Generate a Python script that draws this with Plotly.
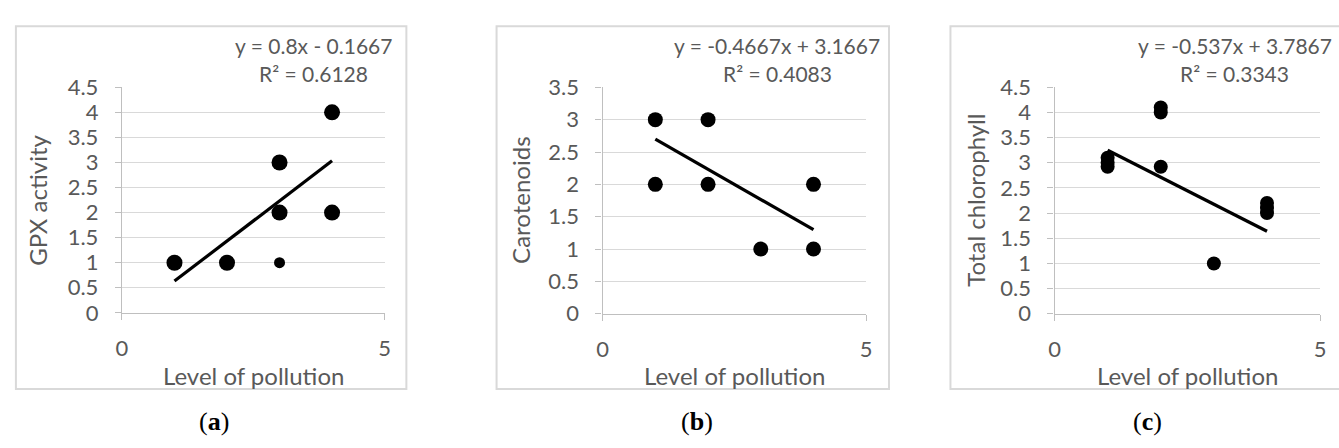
import plotly.graph_objects as go

# ---------------- data ----------------
pollution_a = [1, 2, 3, 3, 3, 4, 4]
gpx_activity = [1, 1, 1, 2, 3, 2, 4]

pollution_b = [1, 1, 2, 2, 3, 4, 4]
carotenoids = [3, 2, 3, 2, 1, 2, 1]

pollution_c = [1, 1, 1, 2, 2, 2, 3, 4, 4, 4]
total_chlorophyll = [2.92, 3.0, 3.1, 4.0, 4.1, 2.92, 1.0, 2.0, 2.1, 2.2]

# trendline coefficients (slope, intercept) and R^2 as shown on chart
fit_a = (0.8, -0.1667, 0.6128)
fit_b = (-0.4667, 3.1667, 0.4083)
fit_c = (-0.537, 3.7867, 0.3343)

eq_a = "y = 0.8x - 0.1667"
eq_b = "y = -0.4667x + 3.1667"
eq_c = "y = -0.537x + 3.7867"

y_titles = ["GPX activity", "Carotenoids", "Total chlorophyll"]
x_title = "Level of pollution"
captions = ["a", "b", "c"]
y_max = [4.5, 3.5, 4.5]

# ---------------- layout helpers ----------------
W, H = 1339, 448
def px(x):
    return x / W
def py(y):
    return 1 - y / H

GRAY = "#595959"
GRID = "#d9d9d9"
FONT = "Lato, 'Open Sans', sans-serif"

panels = [
    dict(xs=pollution_a, ys=gpx_activity, fit=fit_a, eq=eq_a,
         dom_x=(117, 382), dom_y=(78, 318), box=(10, 13, 404, 399),
         ytitle_x=31, eq_cx=310, cap_x=210, msize=[16, 16, 11, 16, 16, 16, 16]),
    dict(xs=pollution_b, ys=carotenoids, fit=fit_b, eq=eq_b,
         dom_x=(602, 868), dom_y=(78, 319), box=(495, 13, 891, 399),
         ytitle_x=519, eq_cx=778, cap_x=697, msize=15),
    dict(xs=pollution_c, ys=total_chlorophyll, fit=fit_c, eq=eq_c,
         dom_x=(1058, 1326), dom_y=(78, 319), box=(953, 13, 1350, 399),
         ytitle_x=978, eq_cx=1240, cap_x=1152, msize=14),
]

fig = go.Figure()
annotations = []
shapes = []

for i, p in enumerate(panels):
    n = "" if i == 0 else str(i + 1)
    xa, ya = "x" + n, "y" + n
    xs, ys = p["xs"], p["ys"]
    slope, intercept, r2 = p["fit"]

    fig.add_trace(go.Scatter(
        x=xs, y=ys, mode="markers", xaxis=xa, yaxis=ya,
        marker=dict(color="black", size=p["msize"], opacity=1, line=dict(width=0)),
        showlegend=False, hoverinfo="x+y"))

    x0, x1 = min(xs), max(xs)
    fig.add_trace(go.Scatter(
        x=[x0, x1], y=[slope * x0 + intercept, slope * x1 + intercept],
        mode="lines", xaxis=xa, yaxis=ya,
        line=dict(color="black", width=3.2), showlegend=False, hoverinfo="skip"))

    dx0, dx1 = p["dom_x"]
    dy0, dy1 = p["dom_y"]
    axis_common = dict(
        showgrid=True, gridcolor=GRID, gridwidth=1.3,
        showline=True, linecolor="#bfbfbf", linewidth=1.3,
        ticks="outside", ticklen=6, tickcolor="#bfbfbf",
        tickfont=dict(family=FONT, size=22, color=GRAY),
        zeroline=False, fixedrange=True)
    fig.update_layout(**{
        ("xaxis" + n): dict(
            domain=[px(dx0), px(dx1)], range=[0, 5], tickvals=[0, 5],
            anchor=ya, ticklabelstandoff=10, **axis_common),
        ("yaxis" + n): dict(
            domain=[py(dy1), py(dy0)], range=[0, y_max[i]], dtick=0.5,
            anchor=xa, ticklabelstandoff=12, **axis_common),
    })

    # outer chart border
    bx0, by0, bx1, by1 = p["box"]
    shapes.append(dict(type="rect", xref="paper", yref="paper",
                       x0=px(bx0), x1=px(bx1), y0=py(by1), y1=py(by0),
                       line=dict(color=GRID, width=2), layer="below"))

    # axis titles
    annotations.append(dict(
        text=x_title, xref="paper", yref="paper",
        x=px((dx0 + dx1) / 2), y=py(385), showarrow=False,
        xanchor="center", yanchor="middle",
        font=dict(family=FONT, size=24, color=GRAY)))
    annotations.append(dict(
        text=y_titles[i], xref="paper", yref="paper",
        x=px(p["ytitle_x"]), y=py((dy0 + dy1) / 2), showarrow=False,
        textangle=-90, xanchor="center", yanchor="middle",
        font=dict(family=FONT, size=24, color=GRAY)))

    # equation and R^2
    annotations.append(dict(
        text=p["eq"], xref="paper", yref="paper",
        x=px(p["eq_cx"]), y=py(33), showarrow=False,
        xanchor="center", yanchor="middle",
        font=dict(family=FONT, size=21, color=GRAY)))
    annotations.append(dict(
        text="R² = %.4f" % r2, xref="paper", yref="paper",
        x=px(p["eq_cx"]), y=py(63), showarrow=False,
        xanchor="center", yanchor="middle",
        font=dict(family=FONT, size=21, color=GRAY)))

    # caption
    annotations.append(dict(
        text="(<b>%s</b>)" % captions[i], xref="paper", yref="paper",
        x=px(p["cap_x"]), y=py(434), showarrow=False,
        xanchor="center", yanchor="middle",
        font=dict(family="'Liberation Serif', 'DejaVu Serif', serif", size=26, color="black")))

fig.update_layout(
    width=W, height=H, margin=dict(l=0, r=0, t=0, b=0),
    paper_bgcolor="white", plot_bgcolor="white",
    annotations=annotations, shapes=shapes,
)

fig.write_html("out.html")
